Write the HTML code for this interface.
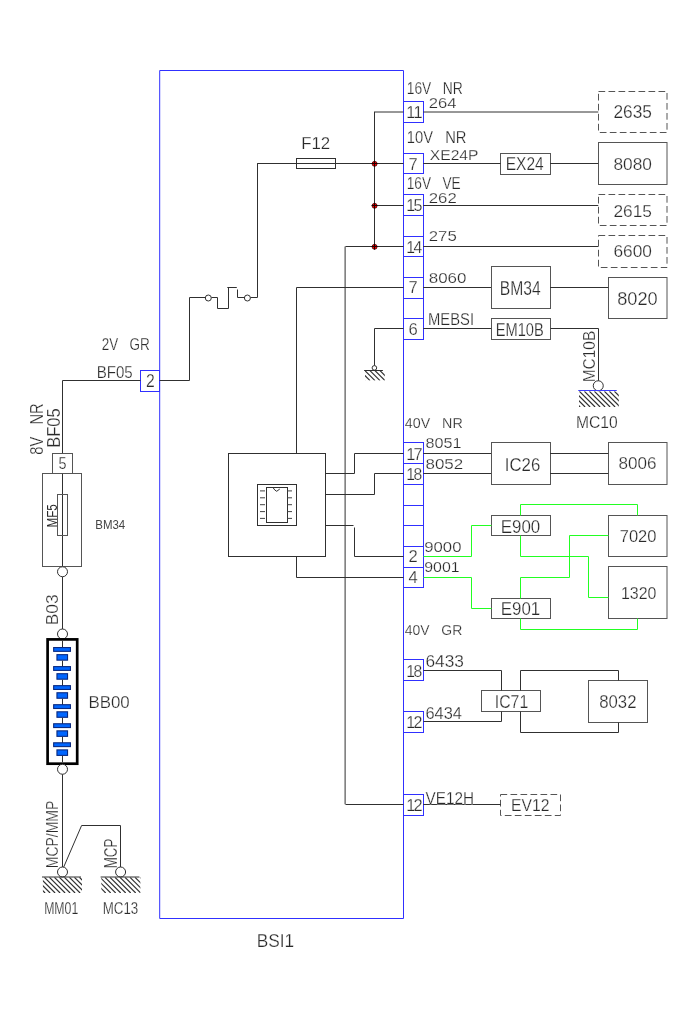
<!DOCTYPE html>
<html><head><meta charset="utf-8"><title>BSI1 wiring diagram</title>
<style>
html,body{margin:0;padding:0;background:#fff;}
svg{display:block;}
svg text{font-family:"Liberation Sans",sans-serif;stroke:#fff;stroke-width:0.25px;}
.t{filter:grayscale(1);}
</style></head><body>
<svg width="700" height="1020" viewBox="0 0 700 1020">
<rect x="0" y="0" width="700" height="1020" fill="#ffffff"/>
<polyline points="159.7,70.5 403.5,70.5 403.5,918.5 159.7,918.5 159.7,70.5" fill="none" stroke="#3030ff" stroke-width="1"/>
<line x1="423.5" y1="101.0" x2="423.5" y2="123.0" stroke="#3030ff" stroke-width="1"/>
<line x1="403.5" y1="101.5" x2="423.75" y2="101.5" stroke="#3030ff" stroke-width="1"/>
<line x1="403.5" y1="122.5" x2="423.75" y2="122.5" stroke="#3030ff" stroke-width="1"/>
<line x1="423.5" y1="153.0" x2="423.5" y2="174.0" stroke="#3030ff" stroke-width="1"/>
<line x1="403.5" y1="153.5" x2="423.75" y2="153.5" stroke="#3030ff" stroke-width="1"/>
<line x1="403.5" y1="173.5" x2="423.75" y2="173.5" stroke="#3030ff" stroke-width="1"/>
<line x1="423.5" y1="194.0" x2="423.5" y2="340.0" stroke="#3030ff" stroke-width="1"/>
<line x1="403.5" y1="194.5" x2="423.75" y2="194.5" stroke="#3030ff" stroke-width="1"/>
<line x1="403.5" y1="215.5" x2="423.75" y2="215.5" stroke="#3030ff" stroke-width="1"/>
<line x1="403.5" y1="236.5" x2="423.75" y2="236.5" stroke="#3030ff" stroke-width="1"/>
<line x1="403.5" y1="256.5" x2="423.75" y2="256.5" stroke="#3030ff" stroke-width="1"/>
<line x1="403.5" y1="277.5" x2="423.75" y2="277.5" stroke="#3030ff" stroke-width="1"/>
<line x1="403.5" y1="298.5" x2="423.75" y2="298.5" stroke="#3030ff" stroke-width="1"/>
<line x1="403.5" y1="318.5" x2="423.75" y2="318.5" stroke="#3030ff" stroke-width="1"/>
<line x1="403.5" y1="339.5" x2="423.75" y2="339.5" stroke="#3030ff" stroke-width="1"/>
<line x1="423.5" y1="442.0" x2="423.5" y2="588.0" stroke="#3030ff" stroke-width="1"/>
<line x1="403.5" y1="442.5" x2="423.75" y2="442.5" stroke="#3030ff" stroke-width="1"/>
<line x1="403.5" y1="463.5" x2="423.75" y2="463.5" stroke="#3030ff" stroke-width="1"/>
<line x1="403.5" y1="484.5" x2="423.75" y2="484.5" stroke="#3030ff" stroke-width="1"/>
<line x1="403.5" y1="505.5" x2="423.75" y2="505.5" stroke="#3030ff" stroke-width="1"/>
<line x1="403.5" y1="525.5" x2="423.75" y2="525.5" stroke="#3030ff" stroke-width="1"/>
<line x1="403.5" y1="546.5" x2="423.75" y2="546.5" stroke="#3030ff" stroke-width="1"/>
<line x1="403.5" y1="567.5" x2="423.75" y2="567.5" stroke="#3030ff" stroke-width="1"/>
<line x1="403.5" y1="587.5" x2="423.75" y2="587.5" stroke="#3030ff" stroke-width="1"/>
<line x1="423.5" y1="659.0" x2="423.5" y2="681.0" stroke="#3030ff" stroke-width="1"/>
<line x1="403.5" y1="659.5" x2="423.75" y2="659.5" stroke="#3030ff" stroke-width="1"/>
<line x1="403.5" y1="680.5" x2="423.75" y2="680.5" stroke="#3030ff" stroke-width="1"/>
<line x1="423.5" y1="711.0" x2="423.5" y2="733.0" stroke="#3030ff" stroke-width="1"/>
<line x1="403.5" y1="711.5" x2="423.75" y2="711.5" stroke="#3030ff" stroke-width="1"/>
<line x1="403.5" y1="732.5" x2="423.75" y2="732.5" stroke="#3030ff" stroke-width="1"/>
<line x1="423.5" y1="794.0" x2="423.5" y2="816.0" stroke="#3030ff" stroke-width="1"/>
<line x1="403.5" y1="794.5" x2="423.75" y2="794.5" stroke="#3030ff" stroke-width="1"/>
<line x1="403.5" y1="815.5" x2="423.75" y2="815.5" stroke="#3030ff" stroke-width="1"/>
<rect x="140.5" y="370.5" width="19.0" height="21.0" fill="none" stroke="#3030ff" stroke-width="1"/>
<rect x="598.5" y="91.5" width="68.5" height="41.0" fill="none" stroke="#555555" stroke-width="1" stroke-dasharray="6.7 3.3"/>
<rect x="598.5" y="142.5" width="68.5" height="42.0" fill="none" stroke="#555555" stroke-width="1"/>
<rect x="598.5" y="194.5" width="68.5" height="31.0" fill="none" stroke="#555555" stroke-width="1" stroke-dasharray="6.7 3.3"/>
<rect x="598.5" y="235.5" width="68.5" height="32.0" fill="none" stroke="#555555" stroke-width="1" stroke-dasharray="6.7 3.3"/>
<rect x="608.5" y="277.5" width="58.5" height="41.0" fill="none" stroke="#555555" stroke-width="1"/>
<rect x="500.5" y="153.5" width="50.0" height="21.0" fill="none" stroke="#555555" stroke-width="1"/>
<rect x="491.5" y="266.5" width="59.0" height="42.0" fill="none" stroke="#555555" stroke-width="1"/>
<rect x="491.5" y="318.5" width="59.0" height="21.0" fill="none" stroke="#555555" stroke-width="1"/>
<rect x="491.5" y="442.5" width="59.0" height="42.0" fill="none" stroke="#555555" stroke-width="1"/>
<rect x="608.5" y="442.5" width="58.5" height="42.0" fill="none" stroke="#555555" stroke-width="1"/>
<rect x="491.5" y="515.5" width="59.0" height="20.0" fill="none" stroke="#555555" stroke-width="1"/>
<rect x="491.5" y="598.5" width="59.0" height="20.0" fill="none" stroke="#555555" stroke-width="1"/>
<rect x="608.5" y="515.5" width="58.5" height="41.0" fill="none" stroke="#555555" stroke-width="1"/>
<rect x="608.5" y="566.5" width="58.5" height="52.0" fill="none" stroke="#555555" stroke-width="1"/>
<rect x="481.5" y="690.5" width="59.0" height="21.0" fill="none" stroke="#555555" stroke-width="1"/>
<rect x="588.5" y="680.5" width="59.0" height="42.0" fill="none" stroke="#555555" stroke-width="1"/>
<rect x="500.5" y="794.5" width="60.0" height="21.0" fill="none" stroke="#555555" stroke-width="1" stroke-dasharray="6.7 3.3"/>
<line x1="423.25" y1="112.0" x2="598.25" y2="112.0" stroke="#303030" stroke-width="1"/>
<line x1="423.25" y1="163.5" x2="500.75" y2="163.5" stroke="#303030" stroke-width="1"/>
<line x1="550" y1="163.5" x2="598.25" y2="163.5" stroke="#303030" stroke-width="1"/>
<line x1="423.25" y1="205.5" x2="598.25" y2="205.5" stroke="#303030" stroke-width="1"/>
<line x1="423.25" y1="246.5" x2="598.25" y2="246.5" stroke="#303030" stroke-width="1"/>
<line x1="423.25" y1="287.5" x2="491" y2="287.5" stroke="#303030" stroke-width="1"/>
<line x1="550" y1="287.5" x2="608.25" y2="287.5" stroke="#303030" stroke-width="1"/>
<line x1="423.25" y1="328.5" x2="491.25" y2="328.5" stroke="#303030" stroke-width="1"/>
<polyline points="550.5,328.5 598.5,328.5 598.5,381.5" fill="none" stroke="#303030" stroke-width="1"/>
<line x1="423.25" y1="453.5" x2="491" y2="453.5" stroke="#303030" stroke-width="1"/>
<line x1="550" y1="453.5" x2="608.25" y2="453.5" stroke="#303030" stroke-width="1"/>
<line x1="423.25" y1="473.5" x2="491" y2="473.5" stroke="#303030" stroke-width="1"/>
<line x1="550" y1="473.5" x2="608.25" y2="473.5" stroke="#303030" stroke-width="1"/>
<polyline points="423.5,556.5 471.5,556.5 471.5,525.5 491.5,525.5" fill="none" stroke="#22ff22" stroke-width="1"/>
<polyline points="423.5,577.5 471.5,577.5 471.5,608.5 491.5,608.5" fill="none" stroke="#22ff22" stroke-width="1"/>
<polyline points="520.5,515.5 520.5,504.5 637.5,504.5 637.5,515.5" fill="none" stroke="#22ff22" stroke-width="1"/>
<polyline points="520.5,535.5 520.5,556.5 588.5,556.5 588.5,597.5 608.5,597.5" fill="none" stroke="#22ff22" stroke-width="1"/>
<polyline points="520.5,598.5 520.5,577.5 569.5,577.5 569.5,535.5 608.5,535.5" fill="none" stroke="#22ff22" stroke-width="1"/>
<polyline points="520.5,618.5 520.5,629.5 637.5,629.5 637.5,618.5" fill="none" stroke="#22ff22" stroke-width="1"/>
<polyline points="423.5,670.5 501.5,670.5 501.5,690.5" fill="none" stroke="#303030" stroke-width="1"/>
<polyline points="423.5,721.5 501.5,721.5 501.5,711.5" fill="none" stroke="#303030" stroke-width="1"/>
<polyline points="520.5,690.5 520.5,670.5 618.5,670.5 618.5,680.5" fill="none" stroke="#303030" stroke-width="1"/>
<polyline points="520.5,711.5 520.5,732.5 618.5,732.5 618.5,722.5" fill="none" stroke="#303030" stroke-width="1"/>
<line x1="423.25" y1="804.5" x2="500.75" y2="804.5" stroke="#303030" stroke-width="1"/>
<circle cx="598.25" cy="385.75" r="5" fill="#fff" stroke="#303030" stroke-width="1"/>
<line x1="578.25" y1="390.5" x2="616.75" y2="390.5" stroke="#3c3cff" stroke-width="1.2"/>
<clipPath id="h1"><rect x="579" y="391.3" width="39.799999999999955" height="15.699999999999989"/></clipPath>
<g clip-path="url(#h1)" stroke="#303030" stroke-width="1.15"><line x1="564.4" y1="391.3" x2="580.1" y2="407"/><line x1="569.4" y1="391.3" x2="585.1" y2="407"/><line x1="574.4" y1="391.3" x2="590.1" y2="407"/><line x1="579.4" y1="391.3" x2="595.1" y2="407"/><line x1="584.4" y1="391.3" x2="600.1" y2="407"/><line x1="589.4" y1="391.3" x2="605.1" y2="407"/><line x1="594.4" y1="391.3" x2="610.1" y2="407"/><line x1="599.4" y1="391.3" x2="615.1" y2="407"/><line x1="604.4" y1="391.3" x2="620.1" y2="407"/><line x1="609.4" y1="391.3" x2="625.1" y2="407"/><line x1="614.4" y1="391.3" x2="630.1" y2="407"/></g>
<line x1="374.25" y1="112.0" x2="403.5" y2="112.0" stroke="#303030" stroke-width="1"/>
<line x1="374.5" y1="111.75" x2="374.5" y2="246.5" stroke="#303030" stroke-width="1"/>
<line x1="257.25" y1="163.5" x2="403.5" y2="163.5" stroke="#303030" stroke-width="1"/>
<rect x="296.5" y="158.5" width="39.0" height="10.0" fill="none" stroke="#303030" stroke-width="1"/>
<line x1="374.25" y1="205.5" x2="403.5" y2="205.5" stroke="#303030" stroke-width="1"/>
<line x1="345.5" y1="246.5" x2="403.5" y2="246.5" stroke="#303030" stroke-width="1"/>
<line x1="345.1" y1="246.5" x2="345.1" y2="804.25" stroke="#303030" stroke-width="1"/>
<line x1="345.5" y1="804.5" x2="403.5" y2="804.5" stroke="#303030" stroke-width="1"/>
<polyline points="403.5,287.5 296.5,287.5 296.5,453.5" fill="none" stroke="#303030" stroke-width="1"/>
<polyline points="403.5,328.5 374.5,328.5 374.5,365.5" fill="none" stroke="#303030" stroke-width="1"/>
<circle cx="374.4" cy="367.9" r="2.3" fill="none" stroke="#303030" stroke-width="1"/>
<line x1="364.1" y1="370.5" x2="382.9" y2="370.5" stroke="#303030" stroke-width="1"/>
<clipPath id="h2"><rect x="365" y="370.6" width="19.80000000000001" height="10.0"/></clipPath>
<g clip-path="url(#h2)" stroke="#303030" stroke-width="1.15"><line x1="355.0" y1="370.6" x2="365.0" y2="380.6"/><line x1="360.0" y1="370.6" x2="370.0" y2="380.6"/><line x1="365.0" y1="370.6" x2="375.0" y2="380.6"/><line x1="370.0" y1="370.6" x2="380.0" y2="380.6"/><line x1="375.0" y1="370.6" x2="385.0" y2="380.6"/><line x1="380.0" y1="370.6" x2="390.0" y2="380.6"/></g>
<circle cx="374.6" cy="163.8" r="2.5" fill="#ff0000" stroke="#300000" stroke-width="0.7"/>
<line x1="371.6" y1="163.5" x2="377.4" y2="163.5" stroke="#1a0000" stroke-width="1"/>
<line x1="374.5" y1="160.9" x2="374.5" y2="166.7" stroke="#1a0000" stroke-width="1"/>
<circle cx="374.6" cy="205.8" r="2.5" fill="#ff0000" stroke="#300000" stroke-width="0.7"/>
<line x1="371.6" y1="205.5" x2="377.4" y2="205.5" stroke="#1a0000" stroke-width="1"/>
<line x1="374.5" y1="202.9" x2="374.5" y2="208.7" stroke="#1a0000" stroke-width="1"/>
<circle cx="374.6" cy="246.8" r="2.5" fill="#ff0000" stroke="#300000" stroke-width="0.7"/>
<line x1="371.6" y1="246.5" x2="377.4" y2="246.5" stroke="#1a0000" stroke-width="1"/>
<line x1="374.5" y1="243.9" x2="374.5" y2="249.7" stroke="#1a0000" stroke-width="1"/>
<line x1="257.5" y1="163.25" x2="257.5" y2="297.6" stroke="#303030" stroke-width="1"/>
<polyline points="159.5,380.5 189.5,380.5 189.5,297.5 205.5,297.5" fill="none" stroke="#303030" stroke-width="1"/>
<circle cx="208.3" cy="298" r="3" fill="none" stroke="#303030" stroke-width="1"/>
<polyline points="211.5,297.5 217.5,297.5 217.5,308.5 228.5,308.5 228.5,287.5" fill="none" stroke="#303030" stroke-width="1"/>
<line x1="227.3" y1="287.5" x2="236.8" y2="287.5" stroke="#303030" stroke-width="1"/>
<polyline points="237.5,289.5 237.5,297.5 244.5,297.5" fill="none" stroke="#303030" stroke-width="1"/>
<circle cx="247.4" cy="298" r="3" fill="none" stroke="#303030" stroke-width="1"/>
<line x1="250.6" y1="297.5" x2="257.25" y2="297.5" stroke="#303030" stroke-width="1"/>
<rect x="228.5" y="453.5" width="97.0" height="103.0" fill="none" stroke="#303030" stroke-width="1"/>
<polyline points="403.5,453.5 354.5,453.5 354.5,473.5 325.5,473.5" fill="none" stroke="#303030" stroke-width="1"/>
<polyline points="403.5,473.5 374.5,473.5 374.5,494.5 325.5,494.5" fill="none" stroke="#303030" stroke-width="1"/>
<polyline points="403.5,556.5 354.5,556.5 354.5,527.5" fill="none" stroke="#303030" stroke-width="1"/>
<line x1="325.5" y1="525.5" x2="353.5" y2="525.5" stroke="#303030" stroke-width="1"/>
<polyline points="403.5,577.5 296.5,577.5 296.5,556.5" fill="none" stroke="#303030" stroke-width="1"/>
<rect x="257.5" y="484.5" width="39.0" height="41.0" fill="none" stroke="#303030" stroke-width="1"/>
<rect x="266.5" y="487.5" width="21.0" height="35.0" fill="none" stroke="#303030" stroke-width="1"/>
<line x1="260" y1="490.9" x2="265" y2="490.9" stroke="#444" stroke-width="1"/>
<line x1="287.4" y1="490.9" x2="292" y2="490.9" stroke="#444" stroke-width="1"/>
<line x1="260" y1="497.8" x2="265" y2="497.8" stroke="#444" stroke-width="1"/>
<line x1="287.4" y1="497.8" x2="292" y2="497.8" stroke="#444" stroke-width="1"/>
<line x1="260" y1="504.7" x2="265" y2="504.7" stroke="#444" stroke-width="1"/>
<line x1="287.4" y1="504.7" x2="292" y2="504.7" stroke="#444" stroke-width="1"/>
<line x1="260" y1="511.6" x2="265" y2="511.6" stroke="#444" stroke-width="1"/>
<line x1="287.4" y1="511.6" x2="292" y2="511.6" stroke="#444" stroke-width="1"/>
<line x1="260" y1="518.4" x2="265" y2="518.4" stroke="#444" stroke-width="1"/>
<line x1="287.4" y1="518.4" x2="292" y2="518.4" stroke="#444" stroke-width="1"/>
<path d="M273.2,487.8 Q274.5,490.3 276.7,491.3 L279.8,489" fill="none" stroke="#303030" stroke-width="1"/>
<polyline points="140.5,380.5 62.5,380.5 62.5,453.5" fill="none" stroke="#303030" stroke-width="1"/>
<rect x="52.5" y="453.5" width="20.0" height="20.0" fill="none" stroke="#555555" stroke-width="1"/>
<rect x="42.5" y="473.5" width="39.0" height="93.0" fill="none" stroke="#555555" stroke-width="1"/>
<line x1="62.5" y1="473.75" x2="62.5" y2="566.25" stroke="#303030" stroke-width="1"/>
<rect x="57.5" y="494.5" width="10.0" height="41.0" fill="none" stroke="#555555" stroke-width="1"/>
<circle cx="62.5" cy="571.75" r="5" fill="#fff" stroke="#303030" stroke-width="1"/>
<line x1="62.5" y1="576.8" x2="62.5" y2="629.2" stroke="#303030" stroke-width="1"/>
<circle cx="62.5" cy="634" r="5" fill="#fff" stroke="#303030" stroke-width="1"/>
<rect x="47.6" y="639.4" width="29.6" height="124.3" fill="#fff" stroke="#000" stroke-width="2.7"/>
<line x1="62.5" y1="640.7" x2="62.5" y2="648.0" stroke="#303030" stroke-width="1"/>
<rect x="53.65" y="647.55" width="16.8" height="3.8" fill="#0066ff" stroke="#0a2a80" stroke-width="1.1"/>
<rect x="56.95" y="654.65" width="10.6" height="5.5" fill="#0066ff" stroke="#0a2a80" stroke-width="1.1"/>
<line x1="62.5" y1="660.7" x2="62.5" y2="667.05" stroke="#303030" stroke-width="1"/>
<rect x="53.65" y="666.6" width="16.8" height="3.8" fill="#0066ff" stroke="#0a2a80" stroke-width="1.1"/>
<rect x="56.95" y="673.7" width="10.6" height="5.5" fill="#0066ff" stroke="#0a2a80" stroke-width="1.1"/>
<line x1="62.5" y1="679.7500000000001" x2="62.5" y2="686.1" stroke="#303030" stroke-width="1"/>
<rect x="53.65" y="685.65" width="16.8" height="3.8" fill="#0066ff" stroke="#0a2a80" stroke-width="1.1"/>
<rect x="56.95" y="692.75" width="10.6" height="5.5" fill="#0066ff" stroke="#0a2a80" stroke-width="1.1"/>
<line x1="62.5" y1="698.8000000000001" x2="62.5" y2="705.15" stroke="#303030" stroke-width="1"/>
<rect x="53.65" y="704.7" width="16.8" height="3.8" fill="#0066ff" stroke="#0a2a80" stroke-width="1.1"/>
<rect x="56.95" y="711.8" width="10.6" height="5.5" fill="#0066ff" stroke="#0a2a80" stroke-width="1.1"/>
<line x1="62.5" y1="717.8500000000001" x2="62.5" y2="724.2" stroke="#303030" stroke-width="1"/>
<rect x="53.65" y="723.75" width="16.8" height="3.8" fill="#0066ff" stroke="#0a2a80" stroke-width="1.1"/>
<rect x="56.95" y="730.85" width="10.6" height="5.5" fill="#0066ff" stroke="#0a2a80" stroke-width="1.1"/>
<line x1="62.5" y1="736.9000000000001" x2="62.5" y2="743.25" stroke="#303030" stroke-width="1"/>
<rect x="53.65" y="742.8" width="16.8" height="3.8" fill="#0066ff" stroke="#0a2a80" stroke-width="1.1"/>
<rect x="56.95" y="749.9" width="10.6" height="5.5" fill="#0066ff" stroke="#0a2a80" stroke-width="1.1"/>
<line x1="62.5" y1="755.95" x2="62.5" y2="762.3" stroke="#303030" stroke-width="1"/>
<circle cx="62.5" cy="769.25" r="5" fill="#fff" stroke="#303030" stroke-width="1"/>
<rect x="46.2" y="764.9" width="32.3" height="0.1" fill="#000"/>
<line x1="62.5" y1="774.3" x2="62.5" y2="867" stroke="#303030" stroke-width="1"/>
<polyline points="63.5,867.5 81.6,825.5 120.5,825.5 120.5,867" fill="none" stroke="#303030" stroke-width="1"/>
<circle cx="62.5" cy="872" r="5" fill="#fff" stroke="#303030" stroke-width="1"/>
<circle cx="120.6" cy="872" r="5" fill="#fff" stroke="#303030" stroke-width="1"/>
<line x1="42" y1="877" x2="81" y2="877" stroke="#303030" stroke-width="1"/>
<line x1="100.6" y1="877" x2="139.4" y2="877" stroke="#303030" stroke-width="1"/>
<clipPath id="h3"><rect x="42.9" y="877.3" width="39.1" height="15.700000000000045"/></clipPath>
<g clip-path="url(#h3)" stroke="#303030" stroke-width="1.15"><line x1="29.4" y1="877.3" x2="45.1" y2="893"/><line x1="34.4" y1="877.3" x2="50.1" y2="893"/><line x1="39.4" y1="877.3" x2="55.1" y2="893"/><line x1="44.4" y1="877.3" x2="60.1" y2="893"/><line x1="49.4" y1="877.3" x2="65.1" y2="893"/><line x1="54.4" y1="877.3" x2="70.1" y2="893"/><line x1="59.4" y1="877.3" x2="75.1" y2="893"/><line x1="64.4" y1="877.3" x2="80.1" y2="893"/><line x1="69.4" y1="877.3" x2="85.1" y2="893"/><line x1="74.4" y1="877.3" x2="90.1" y2="893"/><line x1="79.4" y1="877.3" x2="95.1" y2="893"/></g>
<clipPath id="h4"><rect x="101.3" y="877.3" width="39.10000000000001" height="15.700000000000045"/></clipPath>
<g clip-path="url(#h4)" stroke="#303030" stroke-width="1.15"><line x1="90.0" y1="877.3" x2="105.7" y2="893"/><line x1="95.0" y1="877.3" x2="110.7" y2="893"/><line x1="100.0" y1="877.3" x2="115.7" y2="893"/><line x1="105.0" y1="877.3" x2="120.7" y2="893"/><line x1="110.0" y1="877.3" x2="125.7" y2="893"/><line x1="115.0" y1="877.3" x2="130.7" y2="893"/><line x1="120.0" y1="877.3" x2="135.7" y2="893"/><line x1="125.0" y1="877.3" x2="140.7" y2="893"/><line x1="130.0" y1="877.3" x2="145.7" y2="893"/><line x1="135.0" y1="877.3" x2="150.7" y2="893"/><line x1="140.0" y1="877.3" x2="155.7" y2="893"/></g>
<g class="t">
<text x="406.75" y="94.0" font-size="16.07" textLength="56.0" lengthAdjust="spacingAndGlyphs" fill="#2a2a2a" word-spacing="0.556em">16V NR</text>
<text x="428.75" y="107.75" font-size="15.36" textLength="27.75" lengthAdjust="spacingAndGlyphs" fill="#2a2a2a">264</text>
<text x="406.2 413.4" y="118.25" font-size="16.43" fill="#2a2a2a">11</text>
<text x="406.75" y="142.75" font-size="16.43" textLength="59.75" lengthAdjust="spacingAndGlyphs" fill="#2a2a2a" word-spacing="0.556em">10V NR</text>
<text x="408.5" y="169.5" font-size="16.43" textLength="9.25" lengthAdjust="spacingAndGlyphs" fill="#2a2a2a">7</text>
<text x="429.75" y="160.25" font-size="15.36" textLength="48.75" lengthAdjust="spacingAndGlyphs" fill="#2a2a2a">XE24P</text>
<text x="406.75" y="189.0" font-size="15.71" textLength="54.0" lengthAdjust="spacingAndGlyphs" fill="#2a2a2a" word-spacing="0.556em">16V VE</text>
<text x="406.2 413.4" y="210.75" font-size="16.07" fill="#2a2a2a">15</text>
<text x="428.75" y="203.25" font-size="15.36" textLength="28.0" lengthAdjust="spacingAndGlyphs" fill="#2a2a2a">262</text>
<text x="406.2 413.4" y="252.75" font-size="15.71" fill="#2a2a2a">14</text>
<text x="428.75" y="240.75" font-size="15.0" textLength="28.0" lengthAdjust="spacingAndGlyphs" fill="#2a2a2a">275</text>
<text x="408.5" y="293.25" font-size="16.43" textLength="9.25" lengthAdjust="spacingAndGlyphs" fill="#2a2a2a">7</text>
<text x="428.75" y="282.75" font-size="15.36" textLength="37.75" lengthAdjust="spacingAndGlyphs" fill="#2a2a2a">8060</text>
<text x="408.5" y="334.75" font-size="15.71" textLength="9.25" lengthAdjust="spacingAndGlyphs" fill="#2a2a2a">6</text>
<text x="428.0" y="324.75" font-size="15.71" textLength="46.0" lengthAdjust="spacingAndGlyphs" fill="#2a2a2a">MEBSI</text>
<text x="404.75" y="428.25" font-size="15.36" textLength="58.0" lengthAdjust="spacingAndGlyphs" fill="#2a2a2a" word-spacing="0.556em">40V NR</text>
<text x="406.2 413.4" y="459.5" font-size="16.43" fill="#2a2a2a">17</text>
<text x="406.2 413.4" y="479.75" font-size="15.71" fill="#2a2a2a">18</text>
<text x="425.5" y="448.25" font-size="15.36" textLength="36.0" lengthAdjust="spacingAndGlyphs" fill="#2a2a2a">8051</text>
<text x="425.5" y="469.0" font-size="15.36" textLength="37.75" lengthAdjust="spacingAndGlyphs" fill="#2a2a2a">8052</text>
<text x="408.5" y="562.25" font-size="15.71" textLength="9.25" lengthAdjust="spacingAndGlyphs" fill="#2a2a2a">2</text>
<text x="408.5" y="583.25" font-size="16.07" textLength="9.25" lengthAdjust="spacingAndGlyphs" fill="#2a2a2a">4</text>
<text x="424.25" y="551.5" font-size="15.36" textLength="37.25" lengthAdjust="spacingAndGlyphs" fill="#2a2a2a">9000</text>
<text x="424.25" y="572.25" font-size="15.0" textLength="35.5" lengthAdjust="spacingAndGlyphs" fill="#2a2a2a">9001</text>
<text x="404.75" y="634.5" font-size="15.36" textLength="57.5" lengthAdjust="spacingAndGlyphs" fill="#2a2a2a" word-spacing="0.556em">40V GR</text>
<text x="406.2 413.4" y="676.5" font-size="15.71" fill="#2a2a2a">18</text>
<text x="425.5" y="667.25" font-size="16.43" textLength="38.5" lengthAdjust="spacingAndGlyphs" fill="#2a2a2a">6433</text>
<text x="406.2 413.4" y="728.25" font-size="16.07" fill="#2a2a2a">12</text>
<text x="425.5" y="719.0" font-size="16.43" textLength="36.5" lengthAdjust="spacingAndGlyphs" fill="#2a2a2a">6434</text>
<text x="406.2 413.4" y="811.0" font-size="16.43" fill="#2a2a2a">12</text>
<text x="425.5" y="803.5" font-size="15.71" textLength="48.5" lengthAdjust="spacingAndGlyphs" fill="#2a2a2a">VE12H</text>
<text x="613.5" y="118.25" font-size="17.5" textLength="38.5" lengthAdjust="spacingAndGlyphs" fill="#2a2a2a">2635</text>
<text x="613.5" y="169.5" font-size="17.14" textLength="38.5" lengthAdjust="spacingAndGlyphs" fill="#2a2a2a">8080</text>
<text x="613.5" y="216.5" font-size="16.43" textLength="38.5" lengthAdjust="spacingAndGlyphs" fill="#2a2a2a">2615</text>
<text x="613.5" y="257.0" font-size="16.43" textLength="38.5" lengthAdjust="spacingAndGlyphs" fill="#2a2a2a">6600</text>
<text x="617.25" y="304.75" font-size="18.21" textLength="40.5" lengthAdjust="spacingAndGlyphs" fill="#2a2a2a">8020</text>
<text x="505.75" y="170.25" font-size="18.21" textLength="38.0" lengthAdjust="spacingAndGlyphs" fill="#2a2a2a">EX24</text>
<text x="499.75" y="295.25" font-size="19.64" textLength="41.0" lengthAdjust="spacingAndGlyphs" fill="#2a2a2a">BM34</text>
<text x="495.75" y="336.25" font-size="18.21" textLength="48.0" lengthAdjust="spacingAndGlyphs" fill="#2a2a2a">EM10B</text>
<text x="504.75" y="471.25" font-size="18.93" textLength="35.5" lengthAdjust="spacingAndGlyphs" fill="#2a2a2a">IC26</text>
<text x="618.5" y="469.0" font-size="16.43" textLength="38.0" lengthAdjust="spacingAndGlyphs" fill="#2a2a2a">8006</text>
<text x="500.75" y="532.75" font-size="18.21" textLength="39.5" lengthAdjust="spacingAndGlyphs" fill="#2a2a2a">E900</text>
<text x="500.75" y="615.25" font-size="18.21" textLength="39.5" lengthAdjust="spacingAndGlyphs" fill="#2a2a2a">E901</text>
<text x="619.75" y="541.5" font-size="17.14" textLength="36.75" lengthAdjust="spacingAndGlyphs" fill="#2a2a2a">7020</text>
<text x="621.0" y="598.5" font-size="16.79" textLength="35.5" lengthAdjust="spacingAndGlyphs" fill="#2a2a2a">1320</text>
<text x="494.75" y="707.75" font-size="17.5" textLength="33.5" lengthAdjust="spacingAndGlyphs" fill="#2a2a2a">IC71</text>
<text x="599.25" y="707.75" font-size="17.86" textLength="37.25" lengthAdjust="spacingAndGlyphs" fill="#2a2a2a">8032</text>
<text x="511.0" y="810.75" font-size="16.43" textLength="38.5" lengthAdjust="spacingAndGlyphs" fill="#2a2a2a">EV12</text>
<text x="576.0" y="428.25" font-size="16.07" textLength="41.75" lengthAdjust="spacingAndGlyphs" fill="#2a2a2a">MC10</text>
<text transform="translate(595.25,382.25) rotate(-90)" font-size="17.21" textLength="51.5" lengthAdjust="spacingAndGlyphs" fill="#2a2a2a">MC10B</text>
<text x="301.15" y="148.85" font-size="16.79" textLength="29.1" lengthAdjust="spacingAndGlyphs" fill="#2a2a2a">F12</text>
<text x="101.75" y="350.25" font-size="16.43" textLength="48.0" lengthAdjust="spacingAndGlyphs" fill="#2a2a2a" word-spacing="0.556em">2V GR</text>
<text x="96.75" y="377.75" font-size="16.43" textLength="36.0" lengthAdjust="spacingAndGlyphs" fill="#2a2a2a">BF05</text>
<text x="146.0" y="387.25" font-size="18.21" textLength="8.75" lengthAdjust="spacingAndGlyphs" fill="#2a2a2a">2</text>
<text x="58.5" y="469.0" font-size="16.43" textLength="8.0" lengthAdjust="spacingAndGlyphs" fill="#2a2a2a">5</text>
<text transform="translate(43.25,454.75) rotate(-90)" font-size="18.93" textLength="51.5" lengthAdjust="spacingAndGlyphs" fill="#2a2a2a" word-spacing="0.556em">8V NR</text>
<text transform="translate(60.25,447.75) rotate(-90)" font-size="18.93" textLength="39.5" lengthAdjust="spacingAndGlyphs" fill="#2a2a2a">BF05</text>
<text transform="translate(57.15,527.55) rotate(-90)" font-size="13.93" textLength="23.4" lengthAdjust="spacingAndGlyphs" fill="#2a2a2a" style="stroke:none">MF5</text>
<text x="95.25" y="528.5" font-size="12.86" textLength="30.0" lengthAdjust="spacingAndGlyphs" fill="#444444" style="stroke:none">BM34</text>
<text transform="translate(58.25,625.25) rotate(-90)" font-size="16.93" textLength="31.0" lengthAdjust="spacingAndGlyphs" fill="#2a2a2a">B03</text>
<text x="88.5" y="707.75" font-size="17.14" textLength="41.25" lengthAdjust="spacingAndGlyphs" fill="#2a2a2a">BB00</text>
<text transform="translate(58.25,868.25) rotate(-90)" font-size="16.93" textLength="67.5" lengthAdjust="spacingAndGlyphs" fill="#2a2a2a">MCP/MMP</text>
<text transform="translate(116.65,868.25) rotate(-90)" font-size="17.5" textLength="29.5" lengthAdjust="spacingAndGlyphs" fill="#2a2a2a">MCP</text>
<text x="44.15" y="914.25" font-size="16.93" textLength="34.1" lengthAdjust="spacingAndGlyphs" fill="#2a2a2a">MM01</text>
<text x="102.75" y="914.25" font-size="16.93" textLength="35.5" lengthAdjust="spacingAndGlyphs" fill="#2a2a2a">MC13</text>
<text x="256.75" y="946.65" font-size="18.07" textLength="37.5" lengthAdjust="spacingAndGlyphs" fill="#2a2a2a">BSI1</text>
</g>
</svg>
</body></html>
